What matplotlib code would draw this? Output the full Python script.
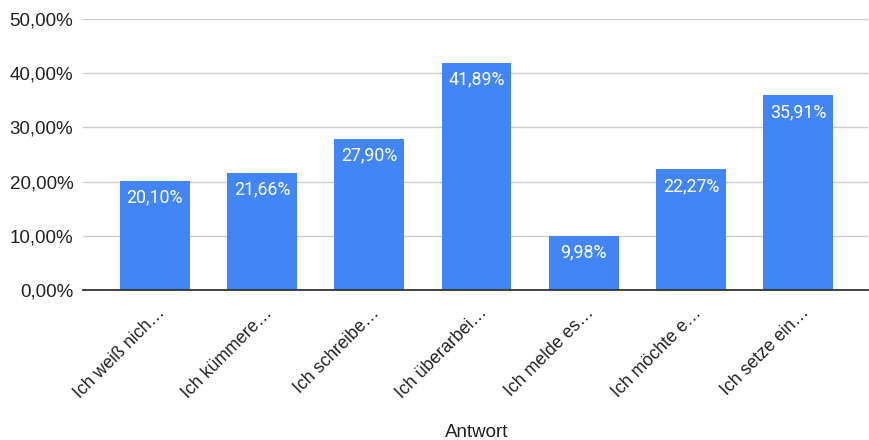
import matplotlib
matplotlib.use("Agg")
import matplotlib.pyplot as plt
import matplotlib.transforms as mtransforms
from matplotlib.ticker import FuncFormatter

categories = ["Ich weiß nich…", "Ich kümmere…", "Ich schreibe…", "Ich überarbei…",
              "Ich melde es…", "Ich möchte e…", "Ich setze ein…"]
values = [20.10, 21.66, 27.90, 41.89, 9.98, 22.27, 35.91]
yticks = [0, 10, 20, 30, 40, 50]

def fmt(v):
    return f"{v:.2f}".replace(".", ",") + "%"

fig = plt.figure(figsize=(8.69, 4.40), dpi=100)
ax = fig.add_axes([83/869, 1-290/440, (868-83)/869, (290-19)/440])

x = list(range(len(categories)))
bars = ax.bar(x, values, width=0.65, color="#4285F4", zorder=3)
ax.set_xlim(-0.67, 6.65)
ax.set_ylim(0, 50)
ax.set_yticks(yticks)
ax.yaxis.set_major_formatter(FuncFormatter(lambda v, p: fmt(v)))
ax.grid(axis="y", color="#cccccc", lw=1, zorder=0)
for s in ["top", "right", "left"]:
    ax.spines[s].set_visible(False)
ax.spines["bottom"].set_color("#333333")
ax.spines["bottom"].set_linewidth(1.3)
ax.spines["bottom"].set_zorder(4)
ax.tick_params(axis="y", length=0, pad=7, labelsize=13.5, labelcolor="#222222")
ax.tick_params(axis="x", length=0, pad=4)
for lab in ax.get_yticklabels():
    lab.set_fontfamily("Liberation Sans")

ax.set_xticks(x)
ax.set_xticklabels(categories, rotation=45, ha="right", va="center",
                   rotation_mode="anchor", fontsize=12.8, color="#222222",
                   fontfamily="Liberation Sans")
off = mtransforms.ScaledTranslation(8/100, -15/100, fig.dpi_scale_trans)
for lab in ax.get_xticklabels():
    lab.set_transform(lab.get_transform() + off)

for b, v in zip(bars, values):
    ax.annotate(fmt(v), (b.get_x() + b.get_width()/2, v), xytext=(0, -5.5),
                textcoords="offset points", ha="center", va="top",
                color="white", fontsize=12.8, fontfamily="Roboto", zorder=5)

fig.text(477/869, 1-432/440, "Antwort", ha="center", va="center",
         fontsize=13.5, color="#222222", fontfamily="Liberation Sans")

fig.savefig("out.png", dpi=100)
